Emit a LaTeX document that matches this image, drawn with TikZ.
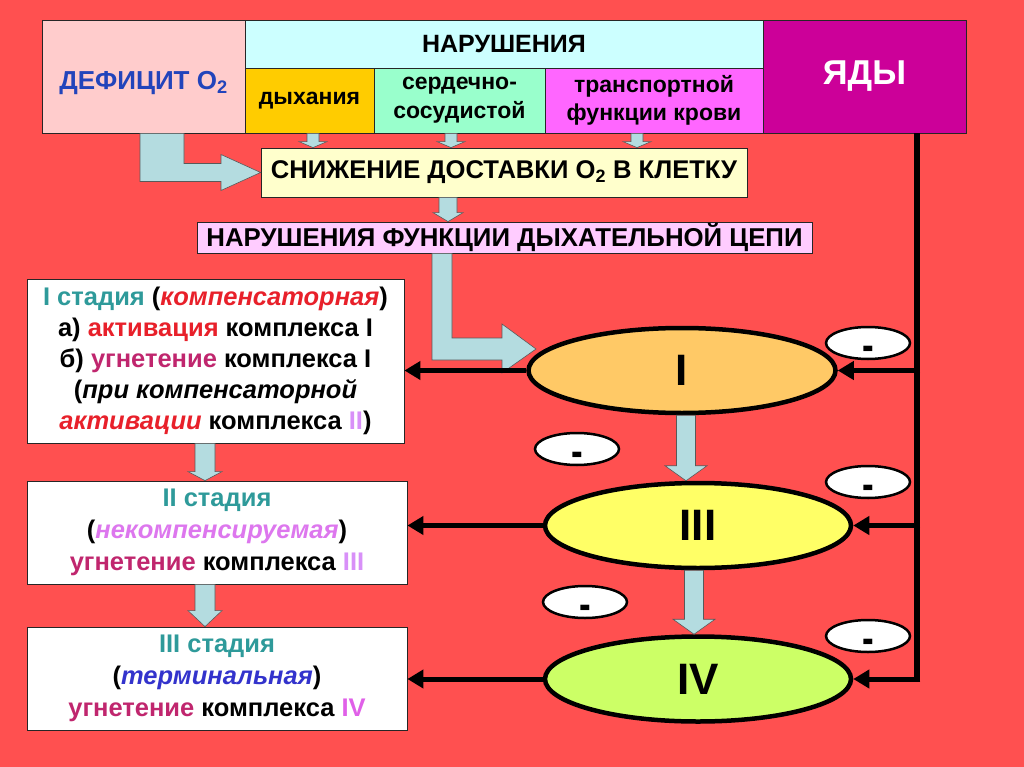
\documentclass[tikz,border=0pt]{standalone}
\usepackage{fontspec}
\setmainfont{Liberation Sans}
\usetikzlibrary{calc,arrows.meta,shapes.geometric}
\definecolor{bgred}{HTML}{FF5050}
\definecolor{defpink}{HTML}{FFCCCC}
\definecolor{defblue}{HTML}{2244BB}
\definecolor{narcyan}{HTML}{CCFFFF}
\definecolor{dyhgold}{HTML}{FFCC00}
\definecolor{serdmint}{HTML}{99FFCC}
\definecolor{transpink}{HTML}{FF66FF}
\definecolor{yadymag}{HTML}{CC0099}
\definecolor{snizhyel}{HTML}{FFFFCC}
\definecolor{narflil}{HTML}{FFCCFF}
\definecolor{arrowblue}{HTML}{B4DCE0}
\definecolor{eone}{HTML}{FFC966}
\definecolor{ethree}{HTML}{FFFF66}
\definecolor{efour}{HTML}{CCFF66}
\definecolor{tealc}{HTML}{2E9A9A}
\definecolor{redc}{HTML}{E8202A}
\definecolor{ugnc}{HTML}{C0266E}
\definecolor{violc}{HTML}{D890F8}
\definecolor{nekc}{HTML}{DD77EE}
\definecolor{termc}{HTML}{3333CC}
\definecolor{ivc}{HTML}{E060E8}
\tikzset{
  box/.style={draw=black!85, line width=0.8pt, inner sep=0pt, align=center, font=\bfseries},
  blk/.style={fill=arrowblue, draw=black!65, line width=0.6pt},
  ell/.style={ellipse, draw=black, line width=4.5pt, inner sep=0pt, font=\bfseries\fontsize{44}{50}\selectfont},
  minusov/.style={ellipse, draw=black, line width=2.5pt, fill=white, minimum width=84pt, minimum height=32pt, inner sep=0pt, font=\bfseries\fontsize{28}{28}\selectfont},
  conn/.style={line width=5pt, -{Triangle[length=16pt,width=18pt]}},
  stagebox/.style={box, fill=white, font=\bfseries\fontsize{25.5}{31}\selectfont},
}
\newcommand{\blockdown}[6]{%
  \filldraw[blk] let \p1=(#2), \p2=(#3) in
    (#1-#4,\y1) -- (#1+#4,\y1) -- (#1+#4,\y2+#6) -- (#1+#5,\y2+#6) --
    (#1,\y2) -- (#1-#5,\y2+#6) -- (#1-#4,\y2+#6) -- cycle;}
\newcommand{\minustext}{\raisebox{-17pt}[0pt][0pt]{\scalebox{1.25}[1.6]{-}}}
\begin{document}
\begin{tikzpicture}[x=1pt,y=-1pt]
\fill[bgred] (0,0) rectangle (1024,767);
\useasboundingbox (0,0) rectangle (1024,767);

% top row
\node[box, fill=defpink, minimum width=203pt, minimum height=113pt] (def) at (143.5,76.5)
  {\raisebox{-13pt}[0pt][0pt]{\textcolor{defblue}{\fontsize{26}{30}\selectfont ДЕФИЦИТ O\textsubscript{2}}}};
\node[box, fill=narcyan, minimum width=518pt, minimum height=48pt, font=\bfseries\fontsize{25}{28}\selectfont] (nar) at (504,44) {НАРУШЕНИЯ};
\node[box, fill=dyhgold, minimum width=129pt, minimum height=65pt, font=\bfseries\fontsize{23}{29}\selectfont] (dyh) at (309.5,100.5) {дыхания};
\node[box, fill=serdmint, minimum width=171pt, minimum height=65pt, font=\bfseries\fontsize{23}{29}\selectfont] (serd) at (459.5,100.5) {сердечно-\\сосудистой};
\node[box, fill=transpink, minimum width=218pt, minimum height=65pt, font=\bfseries\fontsize{23}{28}\selectfont] (trans) at (654,100.5) {транспортной\\функции крови};
\node[box, fill=yadymag, minimum width=203pt, minimum height=113pt, text=white, font=\bfseries\fontsize{34.5}{38}\selectfont] (yady) at (864.5,76.5) {ЯДЫ};

\node[box, fill=snizhyel, minimum width=486pt, minimum height=49pt, font=\bfseries\fontsize{25.6}{28}\selectfont] (snizh) at (504,172.5)
  {СНИЖЕНИЕ ДОСТАВКИ O\textsubscript{2} В КЛЕТКУ};
\node[box, fill=narflil, minimum width=615pt, minimum height=31pt, font=\bfseries\fontsize{25.8}{28}\selectfont] (narf) at (504.5,237.5)
  {НАРУШЕНИЯ ФУНКЦИИ ДЫХАТЕЛЬНОЙ ЦЕПИ};

% stage boxes
\node[stagebox, minimum width=377pt, minimum height=164pt] (s1) at (215.5,361)
  {\textcolor{tealc}{I стадия} (\textcolor{redc}{\itshape компенсаторная})\\
   а) \textcolor{redc}{активация} комплекса I\\
   б) \textcolor{ugnc}{угнетение} комплекса I\\
   (\textit{при компенсаторной}\\
   \textcolor{redc}{\itshape активации} комплекса \textcolor{violc}{II})};
\node[stagebox, minimum width=380pt, minimum height=103pt, font=\bfseries\fontsize{25.5}{32}\selectfont] (s2) at (217,532.5)
  {\textcolor{tealc}{II стадия}\\
   (\textcolor{nekc}{\itshape некомпенсируемая})\\
   \textcolor{ugnc}{угнетение} комплекса \textcolor{violc}{III}};
\node[stagebox, minimum width=380pt, minimum height=103pt, font=\bfseries\fontsize{25.5}{32}\selectfont] (s3) at (217,678.5)
  {\textcolor{tealc}{III стадия}\\
   (\textcolor{termc}{\itshape терминальная})\\
   \textcolor{ugnc}{угнетение} комплекса \textcolor{ivc}{IV}};

% block arrows
\blockdown{313pt}{dyh.south}{snizh.north}{6pt}{14pt}{6pt}
\blockdown{451pt}{serd.south}{snizh.north}{6pt}{14pt}{6pt}
\blockdown{637pt}{trans.south}{snizh.north}{6pt}{14pt}{6pt}
\blockdown{448pt}{snizh.south}{narf.north}{9pt}{15pt}{9pt}
\blockdown{205pt}{s1.south}{s2.north}{10pt}{17pt}{9pt}
\blockdown{205pt}{s2.south}{s3.north}{10pt}{17pt}{16pt}

% L arrow from deficit
\filldraw[blk] let \p1=(def.south), \p2=(snizh.west) in
  (140pt,\y1) -- (184pt,\y1) -- (184pt,\y2+9pt) -- (221pt,\y2+9pt) -- (221pt,\y2+18pt) --
  (\x2,\y2) -- (221pt,\y2-18pt) -- (221pt,\y2-9pt) -- (140pt,\y2-9pt) -- cycle;

% ellipses (positions)
\path (682,370.5) coordinate (e1c) (698,525.5) coordinate (e3c) (698,679) coordinate (e4c);

% L arrow from chain disturbance to complex I
\filldraw[blk] let \p1=(narf.south), \p2=(e1c) in
  (432pt,\y1) -- (452pt,\y1) -- (452pt,\y2+32.5pt) -- (502pt,\y2+32.5pt) -- (502pt,\y2+46.5pt) --
  (536pt,\y2+21.5pt) -- (502pt,\y2-2.5pt) -- (502pt,\y2+10.5pt) -- (432pt,\y2+10.5pt) -- cycle;

% ellipses
\node[ell, fill=eone, minimum width=307pt, minimum height=85pt] (e1) at (e1c) {I};
\node[ell, fill=ethree, minimum width=306pt, minimum height=85pt] (e3) at (e3c) {III};
\node[ell, fill=efour, minimum width=306pt, minimum height=85pt] (e4) at (e4c) {IV};

% arrows between complexes
\blockdown{686pt}{e1.south}{e3.north}{9.5pt}{21pt}{15pt}
\blockdown{694pt}{e3.south}{e4.north}{9.5pt}{21pt}{15pt}

% poison line
\coordinate (vt) at (917,133);
\draw[line width=6.5pt] (yady.south -| vt) -- (vt |- e4.east);
\draw[conn] ($(vt |- e1.east)+(3,0)$) -- (e1.east);
\draw[conn] ($(vt |- e3.east)+(3,0)$) -- (e3.east);
\draw[conn] ($(vt |- e4.east)+(3.25,0)$) -- (e4.east);

% arrows to stage boxes
\draw[conn] (e1.west) -- (e1.west -| s1.east);
\draw[conn] (e3.west) -- (e3.west -| s2.east);
\draw[conn] (e4.west) -- (e4.west -| s3.east);

% minus ovals
\node[minusov] (m1) at (868,343) {\minustext};
\node[minusov] (m2) at (577,449) {\minustext};
\node[minusov] (m3) at (868,482) {\minustext};
\node[minusov] (m4) at (585,602) {\minustext};
\node[minusov] (m5) at (868,636) {\minustext};
\end{tikzpicture}
\end{document}
